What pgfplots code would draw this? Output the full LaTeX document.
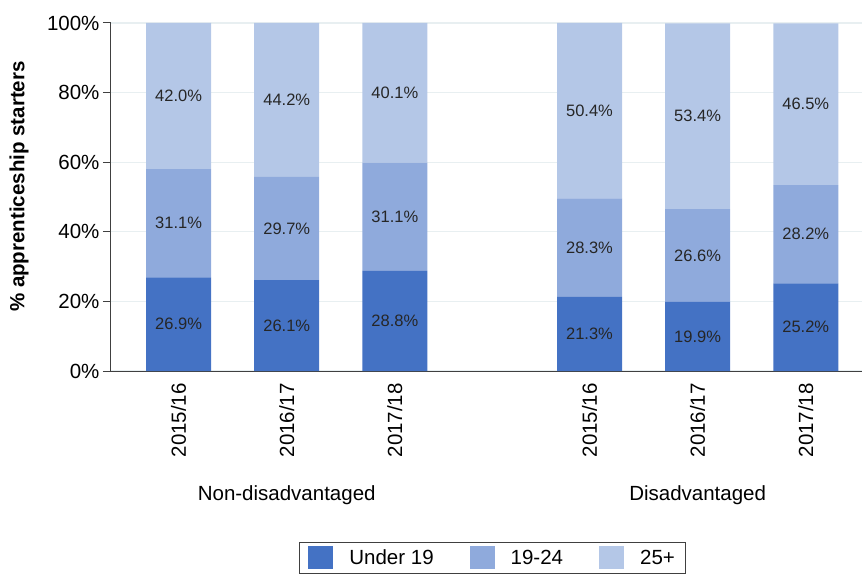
\documentclass[border=0pt]{standalone}
\usepackage{pgfplots}
\pgfplotsset{compat=1.18}
\usepackage{fontspec}
\setmainfont{Liberation Sans}

\definecolor{under}{RGB}{68,114,196}
\definecolor{mid}{RGB}{143,170,220}
\definecolor{over}{RGB}{180,199,231}
\definecolor{gridc}{RGB}{232,239,241}
\definecolor{axisc}{RGB}{64,64,64}
\newcommand\fmain{\fontsize{20.5bp}{24bp}\selectfont}
\newcommand\fbar{\fontsize{16.5bp}{19bp}\selectfont}

\pgfplotsset{
  common/.style={
    width=751bp, height=348bp, scale only axis,
    xmin=-0.625, xmax=6.32,
    ymin=0, ymax=100,
  },
}

\begin{document}
\begin{tikzpicture}
\begin{axis}[
    common,
    name=main,
    at={(0,0)}, anchor=south west,
    ybar stacked,
    bar width=65bp,
    clip=false,
    axis x line*=bottom,
    axis y line*=left,
    axis line style={-, draw=axisc, line width=1bp},
    ytick={0,20,40,60,80,100},
    yticklabel={\pgfmathprintnumber{\tick}\%},
    /pgf/number format/assume math mode=true,
    tick align=outside,
    major tick length=8bp,
    ytick style={draw=axisc, line width=1bp},
    xtick style={draw=none},
    xtick={0,1,2,3.8,4.8,5.8},
    xticklabels={2015/16,2016/17,2017/18,2015/16,2016/17,2017/18},
    xticklabel style={rotate=90, anchor=east, inner sep=4bp},
    tick label style={font=\fmain},
    ymajorgrids=true,
    grid style={draw=gridc, line width=1.2bp},
    ylabel={\textbf{\% apprenticeship starters}},
    ylabel style={font=\fontsize{20.5bp}{24bp}\selectfont, at={(axis description cs:-0.1225,0.53)}, anchor=center},
    legend style={
      at={(rel axis cs:0.2503,-0.4914)}, anchor=north west,
      draw=axisc, line width=0.8bp,
      font=\fmain,
      legend columns=3,
      inner xsep=9bp, inner ysep=4bp,
      /tikz/every odd column/.append style={column sep=14bp},
      /tikz/every even column/.append style={column sep=34bp},
    },
    legend image code/.code={
      \fill[#1] (0bp,-11.5bp) rectangle (25bp,11.5bp);
    },
]
\addplot[fill=under, draw=none] coordinates {
  (0,26.9) (1,26.1) (2,28.8) (3.8,21.3) (4.8,19.9) (5.8,25.2)};
\addplot[fill=mid, draw=none] coordinates {
  (0,31.1) (1,29.7) (2,31.1) (3.8,28.3) (4.8,26.6) (5.8,28.2)};
\addplot[fill=over, draw=none] coordinates {
  (0,42.0) (1,44.2) (2,40.1) (3.8,50.4) (4.8,53.4) (5.8,46.5)};
\legend{Under 19,19-24,25+}

\draw[draw=axisc, line width=1bp] (rel axis cs:0,0) -- ++(-8bp,0);
\node[font=\fmain] at (axis cs:1,-35.6) {Non-disadvantaged};
\node[font=\fmain] at (axis cs:4.8,-35.6) {Disadvantaged};

\coordinate (bl) at (rel axis cs:-0.1478,-0.5977);
\coordinate (tr) at (rel axis cs:1,1.0661);
\end{axis}

\begin{axis}[
    common,
    at={(main.south west)}, anchor=south west,
    hide axis,
    clip=false,
    nodes near coords,
    point meta=explicit symbolic,
    every node near coord/.style={anchor=center, font=\fbar, text=black!85},
]
\addplot[draw=none, mark=none] coordinates {
  (0,13.45)[26.9\%] (1,13.05)[26.1\%] (2,14.4)[28.8\%]
  (3.8,10.65)[21.3\%] (4.8,9.95)[19.9\%] (5.8,12.6)[25.2\%]
  (0,42.45)[31.1\%] (1,40.95)[29.7\%] (2,44.35)[31.1\%]
  (3.8,35.45)[28.3\%] (4.8,33.2)[26.6\%] (5.8,39.3)[28.2\%]
  (0,79.0)[42.0\%] (1,77.9)[44.2\%] (2,79.95)[40.1\%]
  (3.8,74.8)[50.4\%] (4.8,73.2)[53.4\%] (5.8,76.65)[46.5\%]
};
\end{axis}

\pgfresetboundingbox
\path[use as bounding box] (bl) rectangle (tr);
\end{tikzpicture}
\end{document}
